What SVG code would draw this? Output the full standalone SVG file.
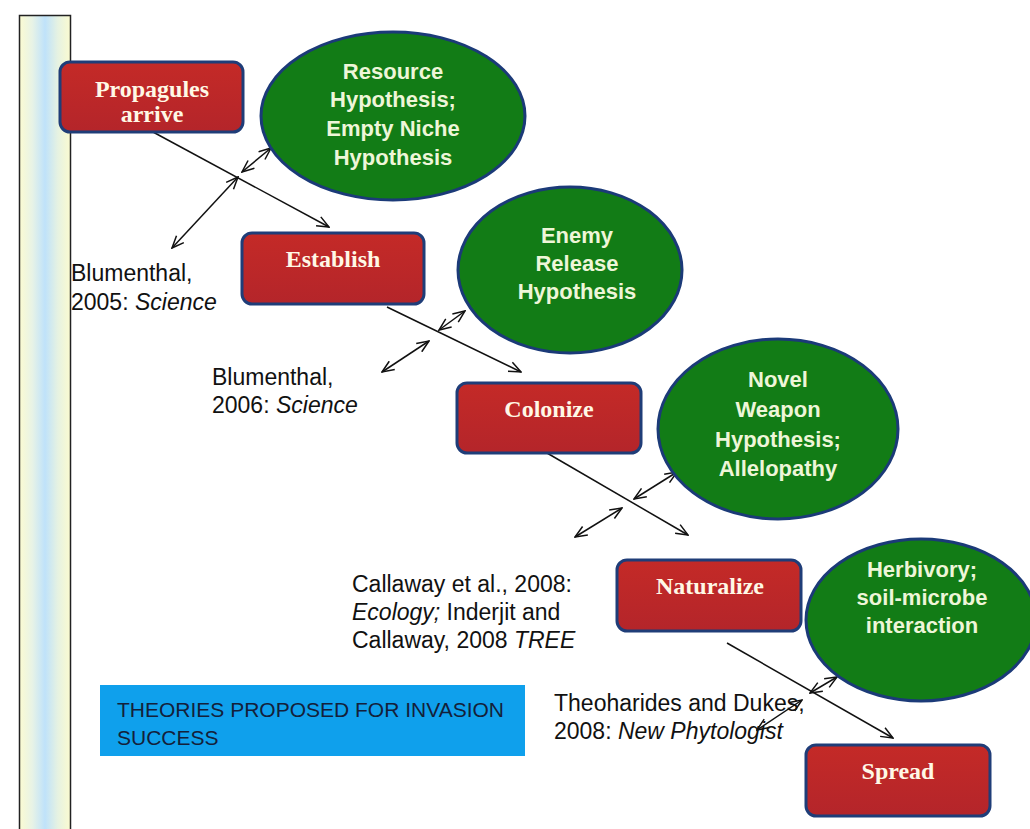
<svg xmlns="http://www.w3.org/2000/svg" width="1030" height="829" viewBox="0 0 1030 829">
<defs>
<linearGradient id="barGrad" x1="0" y1="0" x2="1" y2="0">
<stop offset="0" stop-color="#fbfbd2"/>
<stop offset="0.25" stop-color="#e8f3e6"/>
<stop offset="0.5" stop-color="#bfe2fa"/>
<stop offset="0.75" stop-color="#e6f2e2"/>
<stop offset="1" stop-color="#fbfbd0"/>
</linearGradient>
<linearGradient id="redGrad" x1="0" y1="0" x2="0" y2="1">
<stop offset="0" stop-color="#c42a27"/>
<stop offset="1" stop-color="#b4252a"/>
</linearGradient>
<marker id="arr" viewBox="0 0 14 12" refX="13" refY="6" markerWidth="14" markerHeight="12" markerUnits="userSpaceOnUse" orient="auto-start-reverse">
<path d="M1,1 L13,6 L1,11" fill="none" stroke="#111" stroke-width="1.5"/>
</marker>
</defs>
<style>
.box{fill:url(#redGrad);stroke:#1f3d78;stroke-width:3}
.ell{fill:#127c16;stroke:#1b3a78;stroke-width:3}
.bt{font-family:"Liberation Serif",serif;font-weight:bold;font-size:24px;fill:#fff8e6;text-anchor:middle}
.gt{font-family:"Liberation Sans",sans-serif;font-weight:bold;font-size:22px;fill:#eef6d8;text-anchor:middle}
.rt{font-family:"Liberation Sans",sans-serif;font-size:23px;fill:#111}
.it{font-style:italic}
.ln{stroke:#111;stroke-width:1.5;fill:none}
</style>
<rect x="0" y="0" width="1030" height="829" fill="#ffffff"/>
<g id="sidebar">
<rect x="19.5" y="15.5" width="51" height="820" fill="url(#barGrad)" stroke="#222" stroke-width="1.5"/>
</g>
<g id="connectors">
<line class="ln" x1="153" y1="132" x2="329" y2="227" marker-end="url(#arr)"/>
<line class="ln" x1="172" y1="248" x2="238" y2="177" marker-start="url(#arr)" marker-end="url(#arr)"/>
<line class="ln" x1="242" y1="172" x2="271" y2="148" marker-start="url(#arr)" marker-end="url(#arr)"/>
<line class="ln" x1="387" y1="307" x2="521" y2="372" marker-end="url(#arr)"/>
<line class="ln" x1="382" y1="372" x2="429" y2="341" marker-start="url(#arr)" marker-end="url(#arr)"/>
<line class="ln" x1="439" y1="330" x2="465" y2="311" marker-start="url(#arr)" marker-end="url(#arr)"/>
<line class="ln" x1="547" y1="453" x2="688" y2="535" marker-end="url(#arr)"/>
<line class="ln" x1="575" y1="537" x2="622" y2="508" marker-start="url(#arr)" marker-end="url(#arr)"/>
<line class="ln" x1="634" y1="499" x2="677" y2="472" marker-start="url(#arr)" marker-end="url(#arr)"/>
<line class="ln" x1="727" y1="643" x2="893" y2="738" marker-end="url(#arr)"/>
<line class="ln" x1="757" y1="730" x2="802" y2="700" marker-start="url(#arr)" marker-end="url(#arr)"/>
<line class="ln" x1="810" y1="693" x2="837" y2="677" marker-start="url(#arr)" marker-end="url(#arr)"/>
</g>
<g id="propagules">
<rect class="box" x="60" y="62" width="183" height="70" rx="10"/>
<text class="bt" x="152" y="97">Propagules</text>
<text class="bt" x="152" y="122">arrive</text>
</g>
<g id="resource">
<ellipse class="ell" cx="393" cy="116" rx="132" ry="84"/>
<text class="gt" x="393" y="79">Resource</text>
<text class="gt" x="393" y="107">Hypothesis;</text>
<text class="gt" x="393" y="136">Empty Niche</text>
<text class="gt" x="393" y="165">Hypothesis</text>
</g>
<g id="establish">
<rect class="box" x="242" y="233" width="182" height="71" rx="10"/>
<text class="bt" x="333" y="267">Establish</text>
</g>
<g id="enemy">
<ellipse class="ell" cx="570" cy="270" rx="112" ry="83"/>
<text class="gt" x="577" y="243">Enemy</text>
<text class="gt" x="577" y="271">Release</text>
<text class="gt" x="577" y="299">Hypothesis</text>
</g>
<g id="colonize">
<rect class="box" x="457" y="383" width="184" height="70" rx="10"/>
<text class="bt" x="549" y="417">Colonize</text>
</g>
<g id="novel">
<ellipse class="ell" cx="778" cy="429" rx="120" ry="90"/>
<text class="gt" x="778" y="387">Novel</text>
<text class="gt" x="778" y="417">Weapon</text>
<text class="gt" x="778" y="447">Hypothesis;</text>
<text class="gt" x="778" y="476">Allelopathy</text>
</g>
<g id="naturalize">
<rect class="box" x="617" y="560" width="184" height="71" rx="10"/>
<text class="bt" x="710" y="594">Naturalize</text>
</g>
<g id="herbivory">
<ellipse class="ell" cx="921" cy="620" rx="115" ry="81"/>
<text class="gt" x="922" y="577">Herbivory;</text>
<text class="gt" x="922" y="605">soil-microbe</text>
<text class="gt" x="922" y="633">interaction</text>
</g>
<g id="spread">
<rect class="box" x="806" y="745" width="184" height="71" rx="10"/>
<text class="bt" x="898" y="779">Spread</text>
</g>
<g id="ref1">
<text class="rt" x="71" y="281">Blumenthal,</text>
<text class="rt" x="71" y="310">2005: <tspan class="it">Science</tspan></text>
</g>
<g id="ref2">
<text class="rt" x="212" y="385">Blumenthal,</text>
<text class="rt" x="212" y="413">2006: <tspan class="it">Science</tspan></text>
</g>
<g id="ref3">
<text class="rt" x="352" y="592">Callaway et al., 2008:</text>
<text class="rt" x="352" y="620"><tspan class="it">Ecology;</tspan> Inderjit and</text>
<text class="rt" x="352" y="648">Callaway, 2008 <tspan class="it">TREE</tspan></text>
</g>
<g id="ref4">
<text class="rt" x="554" y="711">Theoharides and Dukes,</text>
<text class="rt" x="554" y="739">2008: <tspan class="it">New Phytologist</tspan></text>
</g>
<g id="title">
<rect x="100" y="685" width="425" height="71" fill="#0fa0ec"/>
<text class="rt" x="117" y="717" style="font-size:21px;fill:#14203a">THEORIES PROPOSED FOR INVASION</text>
<text class="rt" x="117" y="745" style="font-size:21px;fill:#14203a">SUCCESS</text>
</g>
</svg>
